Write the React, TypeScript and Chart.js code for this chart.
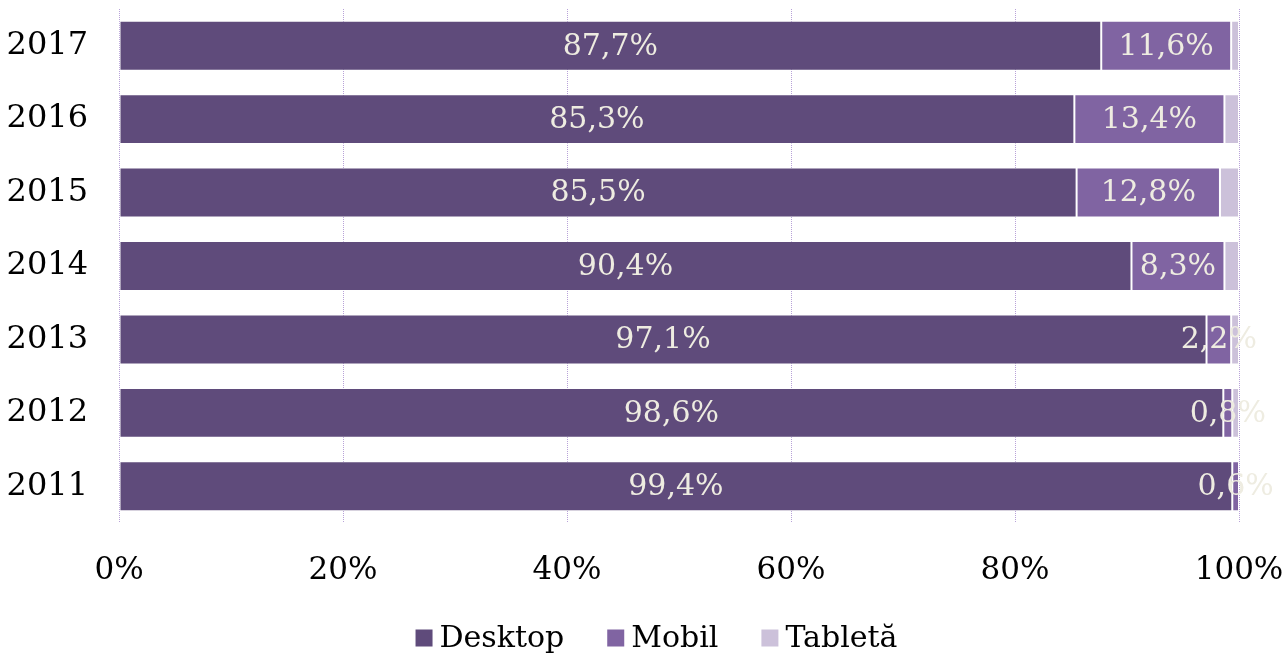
import React, { useEffect, useRef } from "react";
import { Chart, registerables } from "chart.js";

Chart.register(...registerables);

const categories = ["2017", "2016", "2015", "2014", "2013", "2012", "2011"];
const desktop = [87.7, 85.3, 85.5, 90.4, 97.1, 98.6, 99.4];
const mobil = [11.6, 13.4, 12.8, 8.3, 2.2, 0.8, 0.6];
const tableta = [0.7, 1.3, 1.7, 1.3, 0.7, 0.6, 0];
const seriesNames = ["Desktop", "Mobil", "Tabletă"];
const seriesColors = ["#5f4b7b", "#8064a2", "#ccc1da"];
const xTicks = [0, 20, 40, 60, 80, 100];

const FONT = "'DejaVu Serif', serif";

const labelPlugin = {
  id: "barLabels",
  afterDatasetsDraw(chart: any) {
    const ctx = chart.ctx;
    ctx.save();
    ctx.font = `30px ${FONT}`;
    ctx.fillStyle = "#eeece1";
    ctx.textAlign = "center";
    ctx.textBaseline = "middle";
    [0, 1].forEach((di) => {
      const meta = chart.getDatasetMeta(di);
      const data = chart.data.datasets[di].data as number[];
      meta.data.forEach((el: any, i: number) => {
        const v = data[i];
        if (!v) return;
        const cx = (el.x + el.base) / 2;
        ctx.fillText(v.toFixed(1).replace(".", ",") + "%", cx, el.y + 1);
      });
    });
    ctx.restore();
  },
};

const legendPlugin = {
  id: "customLegend",
  afterDraw(chart: any) {
    const ctx = chart.ctx;
    const box = 17;
    const gapText = 7;
    const gapItem = 43;
    ctx.save();
    ctx.font = `30px ${FONT}`;
    ctx.textBaseline = "middle";
    ctx.textAlign = "left";
    const ds = chart.data.datasets;
    const widths = ds.map((d: any) => box + gapText + ctx.measureText(d.label).width);
    const total = widths.reduce((a: number, b: number) => a + b, 0) + gapItem * (ds.length - 1);
    let x = chart.width / 2 - total / 2 + 14;
    const yc = 638;
    ds.forEach((d: any, i: number) => {
      ctx.fillStyle = d.backgroundColor;
      ctx.fillRect(x, yc - box / 2, box, box);
      ctx.fillStyle = "#000";
      ctx.fillText(d.label, x + box + gapText, yc + 1);
      x += widths[i] + gapItem;
    });
    ctx.restore();
  },
};

export default function App() {
  const ref = useRef<HTMLCanvasElement>(null);
  useEffect(() => {
    document.body.style.margin = "0";
    if (!ref.current) return;
    const common = {
      borderWidth: 1,
      borderColor: "rgba(255,255,255,0.4)",
      borderSkipped: false,
      categoryPercentage: 1,
      barPercentage: 0.68,
    };
    const chart = new Chart(ref.current, {
      type: "bar",
      data: {
        labels: categories,
        datasets: [
          { label: seriesNames[0], data: desktop, backgroundColor: seriesColors[0], ...common },
          { label: seriesNames[1], data: mobil, backgroundColor: seriesColors[1], ...common },
          { label: seriesNames[2], data: tableta, backgroundColor: seriesColors[2], ...common },
        ],
      },
      options: {
        indexAxis: "y",
        animation: false,
        responsive: false,
        maintainAspectRatio: false,
        layout: { padding: { left: 0, right: 46, top: 9, bottom: 75 } },
        scales: {
          x: {
            stacked: true,
            min: 0,
            max: 100,
            afterBuildTicks(scale: any) {
              scale.ticks = xTicks.map((v) => ({ value: v }));
            },
            afterFit(scale: any) {
              scale.height = 57;
              scale.paddingLeft = 0;
              scale.paddingRight = 0;
            },
            grid: {
              color: "#b8a2d8",
              lineWidth: 1,
              drawTicks: false,
            },
            border: { display: false, dash: [1, 1] },
            ticks: {
              padding: 29,
              color: "#000",
              font: { family: FONT, size: 31 },
              maxRotation: 0,
              callback: (v: any) => v + "%",
            },
          },
          y: {
            stacked: true,
            afterFit(scale: any) {
              scale.width = 119;
              scale.paddingTop = 0;
              scale.paddingBottom = 0;
            },
            grid: { display: false, drawTicks: false },
            border: { display: false },
            ticks: {
              padding: 31,
              color: "#000",
              font: { family: FONT, size: 32 },
            },
          },
        },
        plugins: {
          legend: { display: false },
          tooltip: { enabled: false },
        },
      },
      plugins: [labelPlugin, legendPlugin],
    } as any);
    return () => chart.destroy();
  }, []);
  return (
    <div style={{ width: 1285, height: 655 }}>
      <canvas ref={ref} width={1285} height={655} style={{ display: "block" }} />
    </div>
  );
}
